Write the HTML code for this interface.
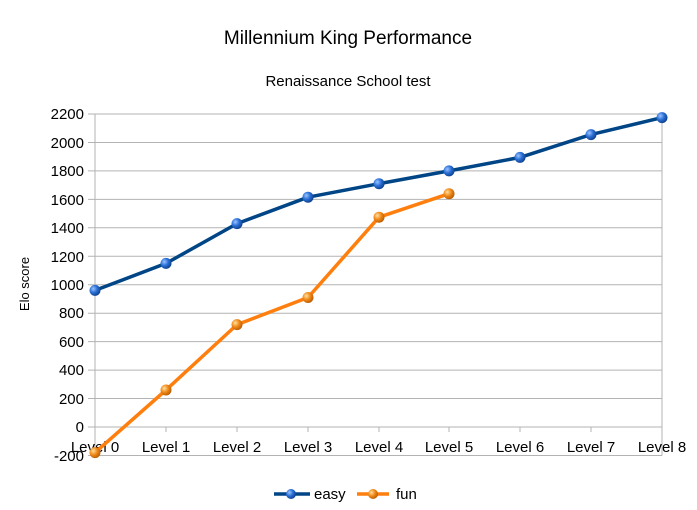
<!DOCTYPE html><html><head><meta charset="utf-8"><style>body{margin:0;background:#fff}svg{display:block;font-family:"Liberation Sans",sans-serif}</style></head><body>
<svg width="697" height="510" viewBox="0 0 697 510">
<defs>
<radialGradient id="b" cx="0.35" cy="0.35" r="0.7"><stop offset="0" stop-color="#9cc4ff"/><stop offset="0.5" stop-color="#2a6fd6"/><stop offset="1" stop-color="#0d3f8a"/></radialGradient>
<radialGradient id="o" cx="0.35" cy="0.35" r="0.7"><stop offset="0" stop-color="#ffe0a0"/><stop offset="0.5" stop-color="#f08a1a"/><stop offset="1" stop-color="#b85a00"/></radialGradient>
</defs>
<text x="348" y="44" font-size="19" text-anchor="middle">Millennium King Performance</text>
<text x="348" y="86" font-size="15" text-anchor="middle">Renaissance School test</text>
<g stroke="#b3b3b3" stroke-width="1">
<line x1="88" x2="662" y1="114" y2="114"/><line x1="88" x2="662" y1="142.5" y2="142.5"/><line x1="88" x2="662" y1="170.9" y2="170.9"/><line x1="88" x2="662" y1="199.4" y2="199.4"/><line x1="88" x2="662" y1="227.8" y2="227.8"/><line x1="88" x2="662" y1="256.3" y2="256.3"/><line x1="88" x2="662" y1="284.7" y2="284.7"/><line x1="88" x2="662" y1="313.2" y2="313.2"/><line x1="88" x2="662" y1="341.6" y2="341.6"/><line x1="88" x2="662" y1="370.1" y2="370.1"/><line x1="88" x2="662" y1="398.5" y2="398.5"/><line x1="88" x2="662" y1="427" y2="427"/><line x1="88" x2="662" y1="455.5" y2="455.5"/>
<line x1="95" x2="95" y1="114" y2="455.5"/><line x1="662" x2="662" y1="114" y2="455.5"/>
<line x1="166" x2="166" y1="427" y2="432"/><line x1="237" x2="237" y1="427" y2="432"/><line x1="308" x2="308" y1="427" y2="432"/><line x1="379" x2="379" y1="427" y2="432"/><line x1="449" x2="449" y1="427" y2="432"/><line x1="520" x2="520" y1="427" y2="432"/><line x1="591" x2="591" y1="427" y2="432"/>
</g>
<g font-size="15" text-anchor="end">
<text x="84" y="119">2200</text><text x="84" y="148">2000</text><text x="84" y="176">1800</text><text x="84" y="205">1600</text><text x="84" y="233">1400</text><text x="84" y="262">1200</text><text x="84" y="290">1000</text><text x="84" y="318">800</text><text x="84" y="347">600</text><text x="84" y="375">400</text><text x="84" y="404">200</text><text x="84" y="432">0</text><text x="84" y="461">-200</text>
</g>
<g font-size="15" text-anchor="middle">
<text x="95" y="452">Level 0</text><text x="166" y="452">Level 1</text><text x="237" y="452">Level 2</text><text x="308" y="452">Level 3</text><text x="379" y="452">Level 4</text><text x="449" y="452">Level 5</text><text x="520" y="452">Level 6</text><text x="591" y="452">Level 7</text><text x="662" y="452">Level 8</text>
</g>
<text transform="translate(29,284) rotate(-90)" font-size="13" text-anchor="middle">Elo score</text>
<polyline fill="none" stroke="#004586" stroke-width="3.5" stroke-linejoin="round" points="95,290.4 166,263.4 237,223.6 308,197.2 379,183.7 449,170.9 520,157.4 591,134.6 662,117.6"/>
<polyline fill="none" stroke="#ff7f0e" stroke-width="3.5" stroke-linejoin="round" points="95,452.6 166,390 237,324.6 308,297.5 379,217.2 449,193.7"/>
<g fill="url(#b)"><circle cx="95" cy="290.4" r="5.5"/><circle cx="166" cy="263.4" r="5.5"/><circle cx="237" cy="223.6" r="5.5"/><circle cx="308" cy="197.2" r="5.5"/><circle cx="379" cy="183.7" r="5.5"/><circle cx="449" cy="170.9" r="5.5"/><circle cx="520" cy="157.4" r="5.5"/><circle cx="591" cy="134.6" r="5.5"/><circle cx="662" cy="117.6" r="5.5"/></g>
<g fill="url(#o)"><circle cx="95" cy="452.6" r="5.5"/><circle cx="166" cy="390" r="5.5"/><circle cx="237" cy="324.6" r="5.5"/><circle cx="308" cy="297.5" r="5.5"/><circle cx="379" cy="217.2" r="5.5"/><circle cx="449" cy="193.7" r="5.5"/></g>
<line x1="274" x2="310" y1="494" y2="494" stroke="#004586" stroke-width="3.5"/><circle cx="291" cy="494" r="5" fill="url(#b)"/>
<text x="314" y="499" font-size="15">easy</text>
<line x1="357" x2="389" y1="494" y2="494" stroke="#ff7f0e" stroke-width="3.5"/><circle cx="373" cy="494" r="5" fill="url(#o)"/>
<text x="396" y="499" font-size="15">fun</text>
</svg></body></html>
